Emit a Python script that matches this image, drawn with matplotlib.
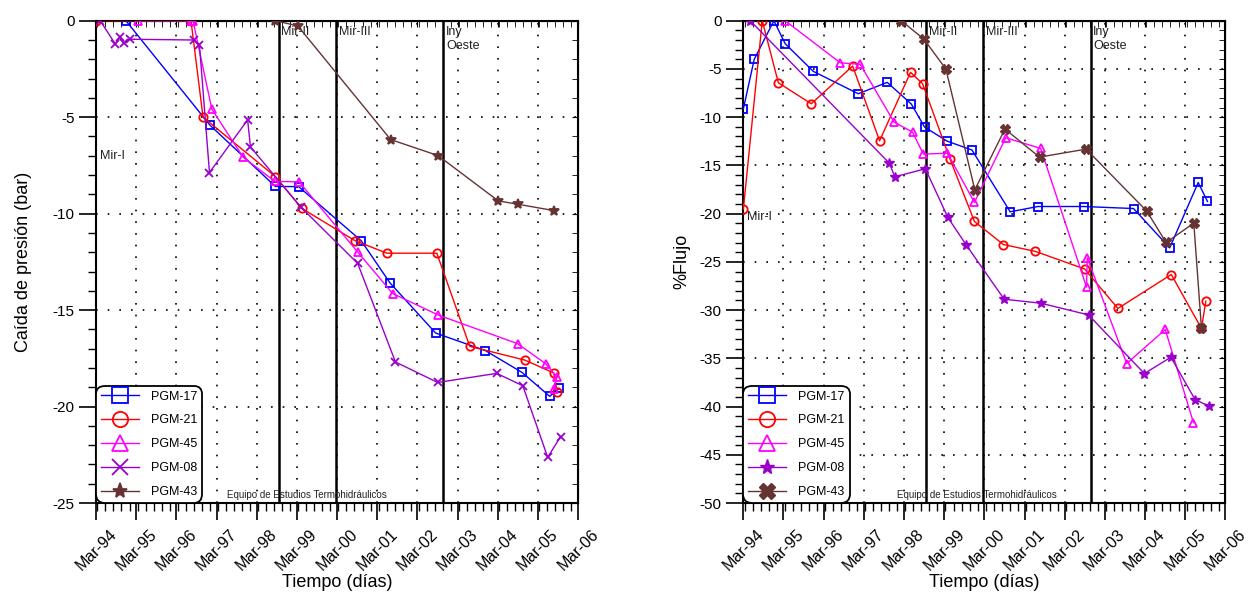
import numpy as np
import matplotlib
matplotlib.use("Agg")
import matplotlib.pyplot as plt
from matplotlib.ticker import MultipleLocator, FixedLocator

plt.rcParams['font.family'] = ['Liberation Sans', 'DejaVu Sans']
plt.rcParams['axes.unicode_minus'] = False

# fechas en años decimales (Mar-94 = 1994.17)
tick_years = [1994 + 2 / 12 + k for k in range(13)]
tick_labels = ['Mar-%02d' % ((94 + k) % 100) for k in range(13)]

# lineas verticales (cambios de operacion)
event_years = [1998.71, 2000.14, 2002.81]
event_names = ['Mir-II', 'Mir-III', 'Iny\nOeste']

names = ['PGM-17', 'PGM-21', 'PGM-45', 'PGM-08', 'PGM-43']
colors = ['#0000ff', '#ff0000', '#ff00ff', '#9900cc', '#663333']

# --- caida de presion (bar) ---
p17_x = [1994.91, 1997.00, 1998.63, 1999.21, 2000.77, 2001.48, 2002.62, 2003.86, 2004.77, 2005.46, 2005.70]
p17_y = [0, -5.41, -8.59, -8.60, -11.41, -13.58, -16.19, -17.10, -18.23, -19.47, -19.06]
p21_x = [1994.17, 1996.53, 1996.83, 1998.63, 1999.29, 2000.62, 2001.41, 2002.65, 2003.47, 2004.84, 2005.56, 2005.65]
p21_y = [0, 0, -5.0, -8.08, -9.73, -11.41, -12.05, -12.05, -16.88, -17.59, -18.26, -19.27]
p45_x = [1995.20, 1996.52, 1996.58, 1997.05, 1997.83, 1998.62, 1999.22, 2000.68, 2001.55, 2002.69, 2004.66, 2005.36, 2005.64, 2005.56]
p45_y = [0, 0, 0, -4.59, -7.08, -8.33, -8.35, -11.99, -14.14, -15.26, -16.74, -17.78, -18.47, -19.09]
p08_x = [1994.27, 1994.64, 1994.77, 1994.85, 1995.00, 1996.61, 1996.74, 1996.99, 1997.94, 1998.01,
         1999.26, 2000.68, 2001.62, 2002.67, 2004.14, 2004.79, 2005.41, 2005.73]
p08_y = [0, -1.19, -0.86, -1.17, -0.96, -1.0, -1.24, -7.87, -5.14, -6.54,
         -9.65, -12.58, -17.69, -18.75, -18.28, -18.92, -22.63, -21.56]
p43_x = [1998.63, 1999.19, 2001.50, 2002.68, 2004.18, 2004.66, 2005.56]
p43_y = [0, -0.27, -6.16, -6.99, -9.34, -9.51, -9.84]

# --- % flujo ---
f17_x = [1994.17, 1994.44, 1994.93, 1995.21, 1995.91, 1997.03, 1997.75, 1998.35, 1998.68, 1999.24, 1999.86,
         2000.81, 2001.50, 2002.64, 2003.88, 2004.78, 2005.49, 2005.72]
f17_y = [-9.13, -4.0, 0, -2.38, -5.25, -7.57, -6.39, -8.64, -11.03, -12.48, -13.41,
         -19.81, -19.26, -19.26, -19.47, -23.55, -16.77, -18.74]
f21_x = [1994.17, 1994.64, 1995.04, 1995.86, 1996.89, 1997.56, 1998.33, 1998.63, 1999.31, 1999.92,
         2000.64, 2001.44, 2002.66, 2003.49, 2004.82, 2005.57, 2005.68]
f21_y = [-19.53, 0, -6.43, -8.61, -4.70, -12.45, -5.35, -6.53, -14.31, -20.81,
         -23.2, -23.92, -25.73, -29.83, -26.31, -31.9, -29.08]
f45_x = [1995.21, 1996.58, 1997.08, 1997.92, 1998.38, 1998.65, 1999.25, 1999.92, 2000.70, 2001.57,
         2002.71, 2002.73, 2003.71, 2004.67, 2005.37]
f45_y = [0, -4.36, -4.53, -10.51, -11.55, -13.83, -13.73, -18.84, -12.13, -13.24,
         -27.62, -24.58, -35.54, -32.01, -41.66]
f08_x = [1994.34, 1997.80, 1997.94, 1998.70, 1999.26, 1999.72, 2000.66, 2001.58, 2002.76, 2004.15,
         2004.81, 2005.41, 2005.75]
f08_y = [0, -14.76, -16.18, -15.35, -20.4, -23.27, -28.87, -29.29, -30.5, -36.58,
         -34.88, -39.27, -39.94]
f43_x = [1998.10, 1998.66, 1999.21, 1999.93, 2000.68, 2001.54, 2002.70, 2004.21, 2004.69, 2005.38, 2005.57]
f43_y = [0, -1.9, -5.01, -17.53, -11.23, -14.14, -13.31, -19.74, -22.99, -20.99, -31.85]


def setup_axes(ax, ymin, ylabel, label_x, mir1_y, credit_x):
    ax.set_xlim(tick_years[0], tick_years[-1])
    ax.set_ylim(ymin, 0)
    ax.set_xticks(tick_years)
    ax.set_xticklabels(tick_labels, rotation=45, ha='center', fontsize=11.5)
    ax.xaxis.set_minor_locator(MultipleLocator(0.2))
    ax.yaxis.set_major_locator(MultipleLocator(5))
    ax.yaxis.set_minor_locator(MultipleLocator(1))
    ax.tick_params(axis='both', which='major', length=12, width=1.2, direction='out', labelsize=11)
    ax.tick_params(axis='x', which='major', pad=5, labelsize=11.5)
    ax.tick_params(axis='both', which='minor', length=6, width=1.0, direction='out')
    ax.grid(True, which='major', color='black', linestyle=(0, (1, 6)), linewidth=1.2)
    for s in ax.spines.values():
        s.set_linewidth(1.5)

    # ticks interiores arriba y a la derecha
    top = ax.secondary_xaxis('top')
    top.set_xticks(tick_years)
    top.xaxis.set_minor_locator(MultipleLocator(0.2))
    top.tick_params(which='both', direction='in', labeltop=False, length=4)
    right = ax.secondary_yaxis('right')
    right.yaxis.set_major_locator(MultipleLocator(5))
    right.yaxis.set_minor_locator(MultipleLocator(1))
    right.tick_params(which='both', direction='in', labelright=False, length=4)

    ax.set_xlabel('Tiempo (días)', fontsize=13)
    ax.xaxis.set_label_coords(0.5, -0.148)
    ax.set_ylabel(ylabel, fontsize=13)
    ax.yaxis.set_label_coords(label_x, 0.5)

    for xe, name in zip(event_years, event_names):
        ax.axvline(xe, color='black', linewidth=1.8, zorder=3)
        ax.annotate(name, xy=(xe, 0), xytext=(2, -4), textcoords='offset points',
                    ha='left', va='top', fontsize=9, color='#222222')
    ax.text(tick_years[0] + 0.1, mir1_y, 'Mir-I', ha='left', va='center', fontsize=9, color='#222222')
    ax.text(credit_x, 0.006, 'Equipo de Estudios Termohidráulicos', transform=ax.transAxes,
            ha='center', va='bottom', fontsize=7, color='#222222')


def add_legend(ax):
    leg = ax.legend(loc='lower left', bbox_to_anchor=(0, 0), borderaxespad=0, fontsize=9,
                    frameon=True, fancybox=True, edgecolor='black', framealpha=1,
                    handlelength=3.0, handletextpad=1.0, labelspacing=0.95, borderpad=0.4)
    leg.get_frame().set_linewidth(1.3)
    leg.get_frame().set_boxstyle('round,pad=0,rounding_size=0.7')
    for h in leg.legend_handles:
        h.set_markersize(11)
    leg.set_zorder(5)


fig = plt.figure(figsize=(12.54, 5.92), dpi=100)
ax1 = fig.add_axes([0.0766, 0.1503, 0.3844, 0.8147])
ax2 = fig.add_axes([0.5927, 0.1503, 0.3845, 0.8147])

left_series = [(p17_x, p17_y, 's'), (p21_x, p21_y, 'o'), (p45_x, p45_y, '^'),
               (p08_x, p08_y, 'x'), (p43_x, p43_y, '*')]
for (x, y, m), c, n in zip(left_series, colors, names):
    filled = m in ('*',)
    ax1.plot(x, y, color=c, marker=m, markersize=7 if m == '*' else 6, linewidth=1.0,
             markerfacecolor=c if filled else 'none', markeredgewidth=1.3, label=n, zorder=4)

right_series = [(f17_x, f17_y, 's'), (f21_x, f21_y, 'o'), (f45_x, f45_y, '^'),
                (f08_x, f08_y, '*'), (f43_x, f43_y, 'X')]
for (x, y, m), c, n in zip(right_series, colors, names):
    filled = m in ('*', 'X')
    ax2.plot(x, y, color=c, marker=m, markersize=7 if filled else 6, linewidth=1.0,
             markerfacecolor=c if filled else 'none', markeredgewidth=1.0 if filled else 1.3,
             label=n, zorder=4)

setup_axes(ax1, -25, 'Caída de presión (bar)', -0.133, -7.0, 0.437)
setup_axes(ax2, -50, '%Flujo', -0.11, -20.3, 0.484)
add_legend(ax1)
add_legend(ax2)

fig.savefig('out.png', dpi=100)
